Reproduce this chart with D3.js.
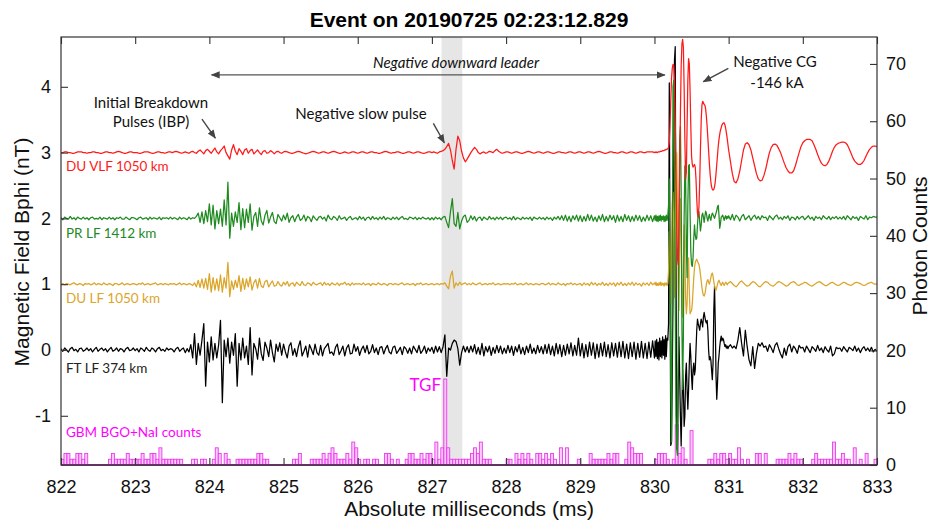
<!DOCTYPE html>
<html><head><meta charset="utf-8">
<script src="https://cdn.jsdelivr.net/npm/d3@7"></script>
<style>body{margin:0;background:#fff}svg{display:block}</style>
</head><body><svg id="c" width="932" height="521"></svg>
<script>
// ---------- data ----------
const xDomain = [822, 833];
const leftDomain = [-1.748, 4.757];
const rightDomain = [0, 74.7];
const xTicks = [822,823,824,825,826,827,828,829,830,831,832,833];
const leftTicks = [-1,0,1,2,3,4];
const rightTicks = [0,10,20,30,40,50,60,70];
const rowStart = 822, rowSpan = 0.5, unit = 0.01; // each row covers 0.5 ms, values in 0.01 nT
const tgfBand = [827.13, 827.41];
const binStart = 822, binWidth = 0.04;

// DU VLF 1050 km (offset 3 nT)
const redOffset = 3;
const redRows = [
[0,0,1,1,0,0,-1,-1,0,1,1,1,0,0,-1,0,0,1,1,0],
[0,-1,-1,0,1,1,0,0,-1,0,1,2,1,0,-1,-1,0,1,1,0],
[0,0,-1,-1,0,1,1,1,0,-1,-1,0,1,1,0,0,-1,0,1,1],
[0,1,2,1,0,-1,0,1,0,-1,1,2,0,-1,2,4,1,-2,3,5],
[2,-1,3,7,1,-2,3,6,10,0,-5,-10,4,12,2,-3,6,2,-3,4],
[6,-1,3,5,-2,1,4,0,-3,2,3,-1,0,3,1,-2,1,2,0,-1],
[1,2,1,0,-1,-1,0,1,2,1,0,-1,-2,-1,0,1,2,1,0,-1],
[0,1,1,0,-1,0,1,2,1,0,-1,-1,0,1,0,-1,0,1,1,0],
[-1,0,1,1,0,-1,0,1,1,0,0,-1,-1,0,1,2,1,0,-1,0],
[0,1,1,0,-1,-1,0,1,1,0,-1,0,1,1,0,-1,-1,0,1,1],
[0,1,0,-1,1,2,3,5,9,14,4,-12,-25,5,25,18,2,-8,-14,-10],
[-5,0,4,8,5,0,-2,0,1,-1,0,2,1,0,3,5,2,0,-1,0],
[1,1,0,-1,0,1,1,0,-1,-1,0,1,2,1,0,-1,0,1,1,0],
[-1,0,1,1,0,-1,-1,0,1,1,0,0,-1,0,1,1,0,-1,0,1],
[1,0,-1,0,1,1,0,-1,0,1,2,1,0,-1,-1,0,1,1,0,0],
[-1,0,1,1,0,-1,0,1,1,0,-1,0,1,1,0,0,1,1,1,1],
[0,1,0,1,0,1,1,1,2,2,2,3,3,3,4,4,5,5,6,8,15,40,80,112,128,134,133,110,50,-30,-110,-160,-170,-120,-30,60,130,165,172,160,100,20,-40,-30,40,110,143,135,95,40],
[-5,-18,-22,-20,-18,-22,-40,-70,-92,-98,-82,-45,5,48,72,78,76,73,72,66,55,40,22,3,-16,-32,-44,-52,-56,-57,-56,-52,-44,-32,-18,-4,10,20,28,34,38,42,44,45,45,42,37,30,22,13],
[4,-14,-32,-44,-46,-40,-28,-12,4,13,15,12,4,-8,-20,-32,-40,-43,-42,-35],
[-25,-12,0,8,12,13,11,6,0,-8,-16,-23,-28,-31,-31,-28,-20,-10,0,9],
[15,18,20,20,20,18,12,5,-3,-10,-16,-19,-20,-18,-13,-6,2,8,12,14],
[15,16,16,15,12,6,-1,-8,-13,-16,-18,-18,-16,-12,-6,0,5,8,10,10]
];
const redLast = 9;

// PR LF 1412 km (offset 2 nT)
const greenOffset = 2;
const greenRows = [
[1,-2,2,0,-1,3,-1,1,-2,2,0,-1,2,-1,1,-2,1,2,-1,0],
[-1,2,-2,1,0,-1,2,-1,1,-2,1,0,2,-1,-1,2,0,-2,1,1],
[0,-2,1,2,-1,0,1,-2,2,-1,1,0,-1,2,-2,1,0,1,-1,2],
[-1,1,0,-2,2,-1,1,0,-2,2,-1,1,0,3,8,-6,10,-8,12,-5],
[22,-10,20,-16,12,-8,14,-12,28,-10,55,-30,8,-12,10,-6,24,-17,15,-14],
[14,-6,22,-18,3,9,-12,16,-4,-10,5,12,-7,2,9,-5,-8,6,1,-4],
[5,-2,8,-6,1,4,-5,2,6,-3,-1,5,-4,3,1,-5,4,0,-3,2],
[3,-1,2,-4,5,0,-2,3,1,-3,4,-1,0,2,-3,1,3,-2,0,1],
[-2,3,-1,2,-3,1,2,-2,3,-1,1,-2,2,-1,3,-2,1,0,-2,2],
[-1,2,-2,1,3,-1,0,-2,2,1,-1,2,-2,1,-1,2,0,-1,1,-2],
[1,-2,2,-1,1,-2,2,3,-6,-14,10,30,-8,-12,9,-16,-4,3,5,-6],
[-3,4,-2,3,-4,1,2,-3,2,0,-2,3,-1,1,-2,2,-1,2,-2,1],
[2,-1,1,-2,3,-2,1,0,-2,2,-1,1,-1,2,-3,2,0,-1,2,-1],
[1,-2,2,-1,1,-3,2,-1,3,-2,4,-3,5,-4,3,-5,4,-2,5,-4],
[4,-5,3,-4,6,-3,5,-4,2,-5,4,-3,6,-5,3,-4,5,-2,4,-6],
[5,-4,3,-5,6,-3,4,-5,3,-4,5,-3,4,-5,2,-4,5,-3,4,-5],
[4,-3,5,-4,3,-5,4,-3,5,-4,3,-2,4,-5,3,-4,5,-3,4,20,60,-80,-250,-340,-60,200,210,60,-120,-300,-350,-360,-200,0,120,140,40,-160,-260,-180,0,80,60,-40,-90,20,80,82,10,-50],
[-70,-73,-60,-30,-10,-25,-32,-30,-10,8,10,-5,-19,-10,5,8,2,-6,3,11,8,0,-4,2,6,0,-3,4,8,6,3,0,4,8,12,18,20,5,-15,-8,2,3,5,1,-3,2,4,-1,3,0],
[4,-2,6,-3,5,2,-4,3,6,-2,1,4,-3,2,5,-1,3,-2,4,1],
[2,-3,4,1,-2,3,5,-1,2,-2,3,0,4,-3,2,1,-2,3,-1,2],
[3,-2,1,4,-1,2,-3,3,0,2,-2,4,1,-1,3,-2,2,0,3,-1],
[2,-1,3,-2,4,1,-2,3,0,2,-3,3,1,-1,4,-2,2,1,3,2]
];
const greenLast = 2;

// DU LF 1050 km (offset 1 nT)
const goldOffset = 1;
const goldRows = [
[0,1,-1,1,0,-1,1,2,0,-1,1,0,-2,1,0,1,-1,0,2,-1],
[1,0,-1,2,0,-1,1,0,-2,1,1,-1,0,2,-1,0,1,-1,0,1],
[0,-1,1,0,2,-1,0,1,-1,0,1,2,-1,0,1,-1,1,0,-1,1],
[0,1,-1,0,2,-1,1,0,-1,1,0,-2,2,-4,6,-5,8,-6,9,-8],
[16,-12,10,-9,8,-10,14,-12,10,-6,33,-19,5,-8,6,-5,13,-11,9,-8],
[8,-4,11,-9,2,7,-6,9,-3,-5,4,6,-4,1,5,-3,-2,4,-1,-3],
[3,-1,4,-3,1,2,-3,3,0,-2,4,-1,-2,2,1,-2,3,0,-1,1],
[2,-2,3,-1,1,-2,2,0,-1,2,-2,1,0,3,-1,1,-2,2,-1,1],
[0,1,-1,2,-1,0,1,-2,1,0,-1,2,0,-1,1,0,-2,1,1,-1],
[1,0,-1,1,2,-1,0,1,-1,0,1,-2,1,0,2,-1,0,1,-1,0],
[1,-1,0,1,-1,1,0,2,-3,-7,12,20,-6,2,-2,3,-1,1,2,-1],
[1,-1,2,0,-1,1,2,-1,0,1,-1,1,0,2,-1,0,1,-1,0,1],
[0,1,-1,1,0,2,-1,0,1,-1,0,2,-1,1,0,-1,1,0,-1,1],
[1,-1,0,2,-1,1,0,-1,2,0,-1,1,-2,1,0,2,-1,1,-1,0],
[1,-2,2,-1,1,-2,3,-1,2,-2,1,-1,3,-2,1,-2,2,-1,2,-3],
[2,-1,3,-2,1,-2,2,-1,3,-2,2,-1,1,-3,2,-1,2,-2,3,-1],
[2,-1,3,-2,1,-2,2,-1,3,-2,2,-1,1,-3,2,-1,2,-2,1,20,80,50,-30,40,120,140,80,-20,60,170,200,120,0,-40,60,130,80,-30,-50,30,90,60,-20,-45,-30,20,40,-10,-45,-42],
[-40,-30,-10,10,25,33,36,38,35,32,30,24,15,5,-5,-12,-17,-18,-15,-8,0,5,7,3,0,4,10,15,17,12,4,-3,-8,-9,-5,0,4,6,3,0,-2,1,3,0,-2,1,3,2,-1,1],
[2,4,1,-2,-4,-1,3,5,2,-1,-3,-2,1,4,3,0,-3,-4,-1,2],
[4,3,0,-2,-3,-1,2,4,3,1,-1,-3,-2,1,3,4,2,-1,-2,0],
[1,3,2,0,-2,-3,-1,1,3,4,2,0,-2,-2,0,2,3,1,-1,-2],
[-1,1,3,2,0,-1,-2,0,2,3,2,1,-1,-2,-1,1,2,3,1,0]
];
const goldLast = 0;

// FT LF 374 km (offset 0 nT)
const blackOffset = 0;
const blackRows = [
[2,-2,3,0,-3,2,4,-1,1,-3,2,3,-2,0,3,-1,2,-3,1,4],
[-2,1,3,-1,2,-3,1,4,-2,0,3,-2,2,1,-3,2,4,-1,0,3],
[-1,2,-3,3,1,-2,4,0,-2,3,1,-3,2,4,-1,1,-2,3,0,2],
[1,-3,2,4,-2,1,3,-4,2,-3,8,-12,25,-22,10,-8,15,40,-55,12],
[-18,20,-15,10,-12,8,45,-80,15,-10,18,-20,12,-8,25,-55,10,-15,18,-12],
[6,-22,34,-38,10,2,-14,18,-6,-16,12,3,-10,15,-4,-18,9,-2,11,-8],
[9,-3,-12,6,11,-8,2,-10,5,14,-9,-2,6,-11,8,1,-7,9,-4,-8],
[7,-9,2,6,10,-5,-3,-8,4,9,-7,-1,6,-9,3,8,-6,-5,9,-2],
[5,-8,1,6,-4,7,-6,-2,8,-4,3,-7,4,5,-6,2,7,-3,-6,4],
[6,-5,-1,4,-7,5,2,-5,3,-6,6,1,-4,7,-5,-1,6,-5,3,-2],
[4,-5,6,-3,5,-4,5,23,-40,3,0,10,15,13,2,-23,-4,6,-3,5],
[-4,6,-3,8,-6,4,-7,10,-9,5,-3,6,-8,4,-5,7,-4,6,-6,3],
[-5,7,-4,6,-8,5,-3,8,-6,4,-7,6,-4,9,-5,3,-6,7,-4,5],
[-6,8,-5,9,-7,6,-9,10,-6,8,-10,7,-8,9,-6,11,-9,7,-8,18],
[-9,10,-12,8,-10,12,-8,11,-13,9,-11,10,-9,12,-10,8,-12,11,-9,10],
[-11,12,-10,13,-12,9,-13,11,-10,12,-14,10,-11,13,-12,10,-13,12,-11,14],
[-12,14,-10,16,-13,12,-15,18,-10,14,-12,20,-8,16,-14,22,-10,18,15,40,406,120,-145,-140,-40,80,300,440,461,150,-150,-146,-60,20,-40,-100,-146,-90,-30,-60,-116,-100,-40,-20,-60,-90,-60,-20,10,-10],
[-40,-60,-30,-20,-38,-30,0,30,47,40,35,30,40,47,42,35,50,57,50,44,41,45,30,0,-15,-10,-15,-30,-45,-20,60,97,40,-40,-75,-50,-20,-9,5,15,21,14,18,16,10,5,8,3,6,2],
[5,8,3,6,2,15,34,10,-9,30,5,-15,-24,5,-28,-5,10,6,11,4],
[6,-2,8,3,-4,7,11,2,-6,-12,3,-8,5,9,-3,6,2,-5,7,3],
[4,-3,6,1,-4,5,2,-2,7,-1,3,-4,5,0,-3,6,-9,-6,4,2],
[3,-2,5,1,-3,4,2,-1,6,-2,3,-4,2,5,-1,3,-2,4,-3,1]
];
const blackLast = -2;

// GBM BGO+NaI counts, 0.04 ms bins from 822 ms
const gbmCounts = [
1,2,2,1,1,2,2,1,2,0,0, 0,0,0,0,0,
1,2,1,1,1,1,2,1,1,1,1,2,1,1,2,2,1,3,1,1,1,1,1,1,1,0,0,
0, 1,1,0,1,1, 0,0, 1,3,2,0,2,1, 0,0,
1,1,1,1,1,1,1,2,2,1,1, 0,0,0,0,0,0,0,0, 1,1,2,0, 0,0,
1,1,1,1,2,1,2,3,2,1,1,1,2,1,4,3,1,0,
1,1,0,1,1, 0,0, 2,2,1,0,1, 0,0,
1,2,2,1,1,2,1,2,2,1,
4,1,3,15,3,1,1,1, 1,1,1,1, 2,3,2,4,1,1,1, 0,0,0,0,0,
1,1,0,2,1,2,1,2,1,0, 2,2,1,2,1,2,1,0,3,0, 3,0,0,0,1,0,0,0,2,1, 1,1,1,1,2,1,2,2,0,0, 1,4,3,2,2,2,
0,0,0,0,
1,2,2,2,1,0,1,7,2,3,1,0,6,0,0,0,0,0,
1,1,2,1,2,2,1,2,1,1,3,1,0,1,0,0,2,2,0,2,0,0,0,
1,1,1,1,2,1,2,1,1, 0,0,0, 1,2,1, 1,1,1,1, 4, 1,1,2,1,1, 0, 3, 0, 1, 0, 2, 0,0, 1
];

const seriesNames = ["FT LF 374 km","DU LF 1050 km","PR LF 1412 km","DU VLF 1050 km"];
const seriesColors = ["#000000","#dba52a","#1f8a1f","#ff1a1a"];

// ---------- chart ----------
const svg = d3.select('#c');
const m = {l:61, r:877, t:37, b:465};
const x = d3.scaleLinear().domain(xDomain).range([m.l, m.r]);
const yL = d3.scaleLinear().domain(leftDomain).range([m.b, m.t]);
const yR = d3.scaleLinear().domain(rightDomain).range([m.b, m.t]);

const defs = svg.append('defs');
defs.append('clipPath').attr('id','clip').append('rect')
  .attr('x',m.l).attr('y',m.t).attr('width',m.r-m.l).attr('height',m.b-m.t);
defs.append('marker').attr('id','ah').attr('viewBox','0 0 10 10')
  .attr('refX',9).attr('refY',5).attr('markerWidth',9).attr('markerHeight',9)
  .attr('markerUnits','userSpaceOnUse').attr('orient','auto-start-reverse')
  .append('path').attr('d','M0,1L10,5L0,9Z').attr('fill','#444');

const plot = svg.append('g').attr('clip-path','url(#clip)');

// TGF band
plot.append('rect').attr('x',x(tgfBand[0])).attr('y',m.t)
  .attr('width',x(tgfBand[1])-x(tgfBand[0])).attr('height',m.b-m.t).attr('fill','#e6e6e6');

// histogram
const bins = gbmCounts.map((c,i)=>({t0: binStart+i*binWidth, c})).filter(d=>d.c>0);
plot.selectAll('rect.bin').data(bins).join('rect').attr('class','bin')
  .attr('x',d=>x(d.t0)).attr('width',d=>x(d.t0+binWidth)-x(d.t0))
  .attr('y',d=>yR(d.c)).attr('height',d=>yR(0)-yR(d.c))
  .attr('fill','#ffb8ff').attr('fill-opacity',0.75).attr('stroke','#ea3cea').attr('stroke-width',0.9);

function toPoints(rows, last, off){
  const pts=[];
  rows.forEach((row,k)=>{
    const t0 = rowStart + k*rowSpan;
    row.forEach((v,j)=>pts.push([t0 + j*rowSpan/row.length, off + v*unit]));
  });
  pts.push([xDomain[1], off + last*unit]);
  return pts;
}
const series = [
  toPoints(blackRows, blackLast, blackOffset),
  toPoints(goldRows, goldLast, goldOffset),
  toPoints(greenRows, greenLast, greenOffset),
  toPoints(redRows, redLast, redOffset)
];
const line = d3.line().x(d=>x(d[0])).y(d=>yL(d[1]));
series.forEach((pts,i)=>{
  plot.append('path').datum(pts).attr('d',line).attr('fill','none')
    .attr('stroke',seriesColors[i]).attr('stroke-width',1.25).attr('stroke-linejoin','round');
});

// bottom magenta baseline
svg.append('line').attr('x1',m.l).attr('x2',m.r).attr('y1',yR(0)).attr('y2',yR(0))
  .attr('stroke','#a33aa3').attr('stroke-width',2);

// axes
const tickFont = g => g.selectAll('text').attr('font-family','"Liberation Sans", Arial, sans-serif')
  .attr('font-size',18).attr('fill','#111');
const tickLine = g => { g.select('.domain').remove(); g.selectAll('line').attr('stroke','#333').attr('stroke-width',1.1); };
svg.append('g').attr('transform',`translate(${m.l},0)`)
  .call(d3.axisLeft(yL).tickValues(leftTicks).tickSizeInner(-7).tickSizeOuter(0).tickPadding(10).tickFormat(d=>String(d)))
  .call(tickLine).call(tickFont);
svg.append('g').attr('transform',`translate(${m.r},0)`)
  .call(d3.axisRight(yR).tickValues(rightTicks).tickSizeInner(-7).tickSizeOuter(0).tickPadding(9).tickFormat(d=>String(d)))
  .call(tickLine).call(tickFont);
svg.append('g').attr('transform',`translate(0,${m.b})`)
  .call(d3.axisBottom(x).tickValues(xTicks).tickSizeInner(-7).tickSizeOuter(0).tickPadding(15).tickFormat(d=>String(d)))
  .call(tickLine).call(tickFont);
svg.append('g').attr('transform',`translate(0,${m.t})`)
  .call(d3.axisTop(x).tickValues(xTicks).tickSizeInner(-7).tickSizeOuter(0).tickFormat(''))
  .call(tickLine);
svg.append('rect').attr('x',m.l).attr('y',m.t).attr('width',m.r-m.l).attr('height',m.b-m.t)
  .attr('fill','none').attr('stroke','#333').attr('stroke-width',1.2);

// titles
const sans = '"Liberation Sans", Arial, sans-serif';
svg.append('text').attr('x',(m.l+m.r)/2).attr('y',27).attr('text-anchor','middle')
  .attr('font-family',sans).attr('font-weight','bold').attr('font-size',21).attr('fill','#000')
  .text('Event on 20190725 02:23:12.829');
svg.append('text').attr('x',(m.l+m.r)/2).attr('y',516).attr('text-anchor','middle')
  .attr('font-family',sans).attr('font-size',21).attr('fill','#111').text('Absolute milliseconds (ms)');
svg.append('text').attr('transform','translate(29,252) rotate(-90)').attr('text-anchor','middle')
  .attr('font-family',sans).attr('font-size',21).attr('fill','#111').text('Magnetic Field Bphi (nT)');
svg.append('text').attr('transform','translate(927,246) rotate(-90)').attr('text-anchor','middle')
  .attr('font-family',sans).attr('font-size',21).attr('fill','#111').text('Photon Counts');

// series labels
const labelFont = 'Lato, "Open Sans", sans-serif';
const seriesLabelY = [-0.35, 0.72, 1.70, 2.72];
seriesNames.forEach((n,i)=>{
  svg.append('text').attr('x',x(822.067)).attr('y',yL(seriesLabelY[i]))
    .attr('font-family',labelFont).attr('font-size',13.5).attr('fill',i===0?'#222':seriesColors[i]).text(n);
});
svg.append('text').attr('x',x(822.067)).attr('y',yL(-1.322))
  .attr('font-family',labelFont).attr('font-size',13.5).attr('fill','#ff00ff').text('GBM BGO+NaI counts');
svg.append('text').attr('x',x(827.123)).attr('y',yL(-0.62)).attr('text-anchor','end')
  .attr('font-family',labelFont).attr('font-size',17).attr('fill','#ff00ff').text('TGF');

// annotations
const notes = [
  {text:'Initial Breakdown', t:823.213, v:3.678},
  {text:'Pulses (IBP)', t:823.213, v:3.389},
  {text:'Negative slow pulse', t:826.044, v:3.51},
  {text:'Negative CG', t:831.625, v:4.30},
  {text:'-146 kA', t:831.652, v:3.98},
  {text:'Negative downward leader', t:827.325, v:4.286, italic:true}
];
notes.forEach(n=>{
  svg.append('text').attr('x',x(n.t)).attr('y',yL(n.v)).attr('text-anchor','middle')
    .attr('font-family',labelFont).attr('font-size',15).attr('fill','#111')
    .attr('font-style',n.italic?'italic':'normal').text(n.text);
});
const arrows = [
  {t1:823.90, v1:3.51, t2:824.08, v2:3.22},
  {t1:827.019, v1:3.445, t2:827.167, v2:3.15},
  {t1:830.996, v1:4.28, t2:830.659, v2:4.077}
];
arrows.forEach(a=>{
  svg.append('line').attr('x1',x(a.t1)).attr('y1',yL(a.v1)).attr('x2',x(a.t2)).attr('y2',yL(a.v2))
    .attr('stroke','#444').attr('stroke-width',1.4).attr('marker-end','url(#ah)');
});
const leader = {t1:824.03, t2:830.14, v:4.18};
svg.append('line').attr('x1',x(leader.t1)).attr('x2',x(leader.t2)).attr('y1',yL(leader.v)).attr('y2',yL(leader.v))
  .attr('stroke','#555').attr('stroke-width',1.3).attr('marker-start','url(#ah)').attr('marker-end','url(#ah)');
</script></body></html>
